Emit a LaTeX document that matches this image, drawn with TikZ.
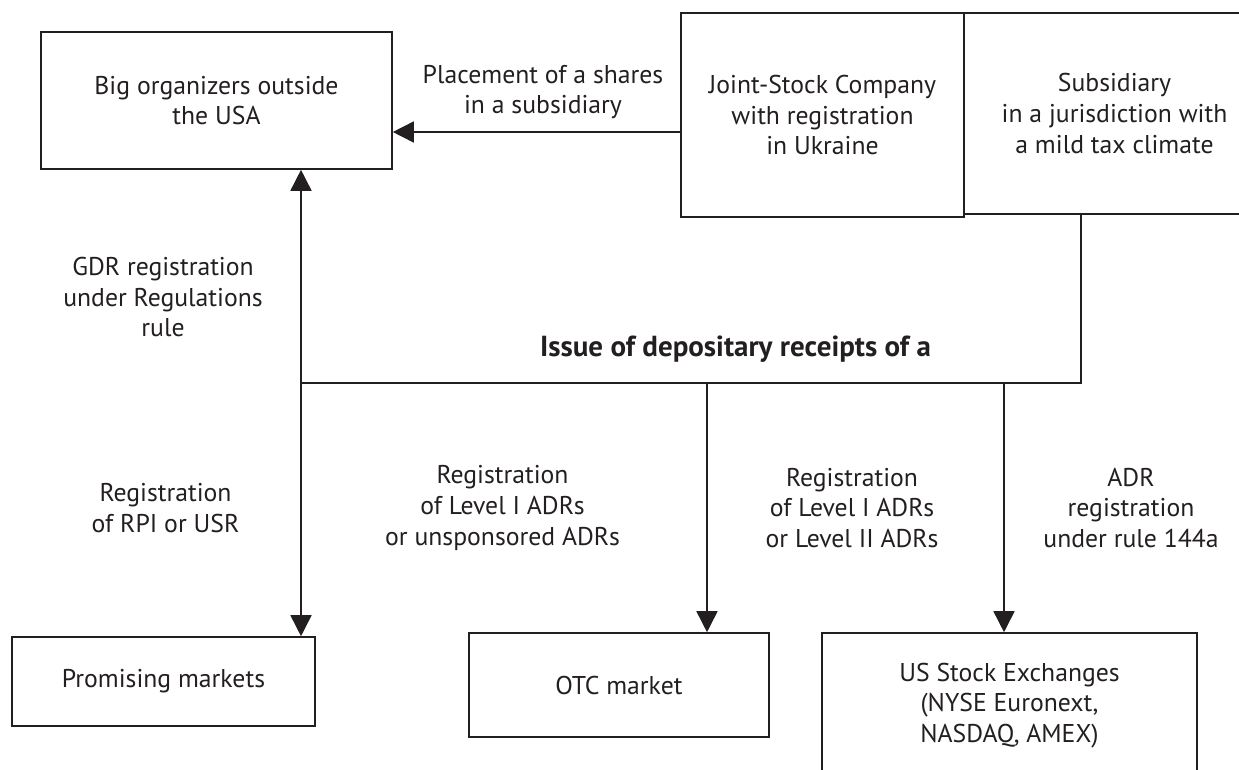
\documentclass[tikz,border=0pt]{standalone}
\usepackage{fontspec}
\setmainfont{PT Sans}
\usetikzlibrary{arrows.meta}
\definecolor{ink}{HTML}{231F20}
\begin{document}
\begin{tikzpicture}[x=1pt,y=-1pt,
  every node/.style={text=ink,font=\fontsize{25.7}{30.8}\selectfont},
  box/.style={draw=ink,line width=1.6pt,rectangle,inner sep=0pt,align=center},
  lbl/.style={align=center,inner sep=0pt},
  conn/.style={draw=ink,line width=1.6pt},
  arr/.style={conn,-{Triangle[width=21pt,length=21pt]}}]
\useasboundingbox (0,0) rectangle (1239,769);
% boxes
\node[box,minimum width=351pt,minimum height=137pt] (big) at (216.5,100.5) {Big organizers outside\\the USA};
\node[box,minimum width=283pt,minimum height=204pt] (jsc) at (822.5,115) {Joint-Stock Company\\with registration\\in Ukraine};
\node[box,minimum width=301pt,minimum height=201pt] (sub) at (1114.5,113.5) {Subsidiary\\in a jurisdiction with\\a mild tax climate};
\node[box,minimum width=303pt,minimum height=89pt] (prom) at (163.5,681.5) {Promising markets};
\node[box,minimum width=300pt,minimum height=104pt] (otc) at (619,685) {OTC market};
\node[box,minimum width=375pt,minimum height=145pt] (us) at (1009.5,705.5) {US Stock Exchanges\\(NYSE Euronext,\\NASDAQ, AMEX)};
% labels
\node[lbl] (place) at (543,92) {Placement of a shares\\in a subsidiary};
\node[lbl] (gdr) at (163,297) {GDR registration\\under Regulations\\rule};
\node[lbl,font=\fontsize{29}{34}\selectfont\bfseries] (issue) at (735.5,349) {Issue of depositary receipts of a};
\node[lbl] (rpi) at (165.5,508) {Registration\\of RPI or USR};
\node[lbl] (lvla) at (502.5,508) {Registration\\of Level I ADRs\\or unsponsored ADRs};
\node[lbl] (lvlb) at (852,508) {Registration\\of Level I ADRs\\or Level II ADRs};
\node[lbl] (adr) at (1131,508) {ADR\\registration\\under rule 144a};
% junctions
\coordinate (j1) at (301,383);
\coordinate (j2) at (707,383);
\coordinate (j3) at (1004,383);
\coordinate (j4) at (1081,383);
\coordinate (py) at (0,132);
% connectors
\draw[arr] (jsc.west |- py) -- (big.east |- py);
\draw[conn] (sub.south -| j4) -- (j4) -- (j1);
\draw[arr] (j1) -- (j1 |- big.south);
\draw[arr] (j1) -- (j1 |- prom.north);
\draw[arr] (j2) -- (j2 |- otc.north);
\draw[arr] (j3) -- (j3 |- us.north);
\end{tikzpicture}
\end{document}
